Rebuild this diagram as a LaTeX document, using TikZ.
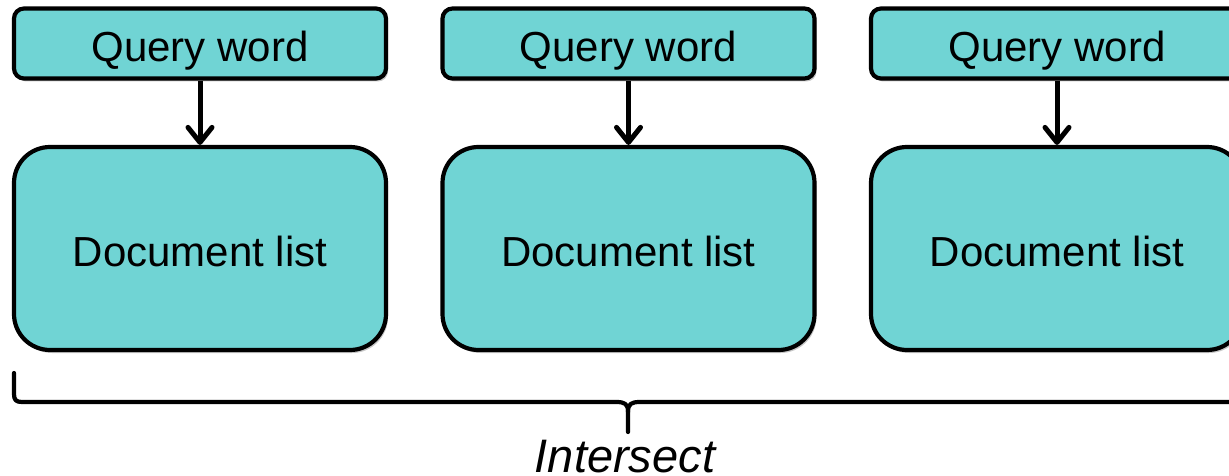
\documentclass[tikz,border=0pt]{standalone}
\usepackage{fontspec}
\setmainfont{Liberation Sans}
\usetikzlibrary{arrows.meta,shadows}
\definecolor{boxfill}{RGB}{112,212,212}
\begin{document}
\begin{tikzpicture}[x=1pt,y=-1pt,
  softshadow/.style={drop shadow={shadow xshift=2pt,shadow yshift=-3pt,opacity=0.22,fill=black}},
  qbox/.style={draw=black,line width=4.2pt,fill=boxfill,rounded corners=10pt,
    minimum width=372pt,minimum height=70pt,inner sep=0pt,softshadow,
    font=\fontsize{42}{50}\selectfont,text height=37pt,text depth=0pt},
  dbox/.style={draw=black,line width=4.2pt,fill=boxfill,rounded corners=36pt,
    minimum width=372pt,minimum height=203pt,inner sep=0pt,softshadow,
    font=\fontsize{42}{50}\selectfont,text height=35pt,text depth=0pt},
  link/.style={line width=5pt,-{Straight Barb[length=15pt,width=24pt,line cap=round,line join=round]}},
  bracestyle/.style={line width=4.2pt,line cap=round,line join=round}]
\useasboundingbox (0,0) rectangle (1229,476);
\foreach \i/\cx in {1/200,2/628.5,3/1057}{
  \node[qbox] (q\i) at (\cx,43.5) {Query word};
  \node[dbox] (d\i) at (\cx,248.5) {Document list};
  \draw[link] (q\i.south) -- (d\i.north);
}
\coordinate (bl) at (14,373);
\coordinate (tip) at (628,432);
\coordinate (br) at (1243,373);
\draw[bracestyle] (bl) -- (14,394) .. controls (14,400) and (16,402) .. (22,402)
  -- (616,402) .. controls (625,402) and (628,404) .. (628,412) -- (tip);
\draw[bracestyle] (628,412) .. controls (628,404) and (631,402) .. (640,402)
  -- (1235,402) .. controls (1241,402) and (1243,400) .. (1243,394) -- (br);
\node[anchor=base,inner sep=0pt,text depth=0pt,font=\fontsize{47}{56}\selectfont\itshape] (lab) at (625,472) {Intersect};
\end{tikzpicture}
\end{document}
